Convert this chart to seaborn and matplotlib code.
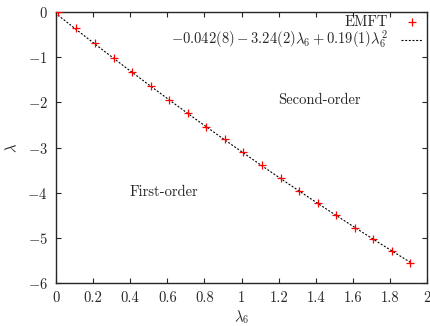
import numpy as np
import pandas as pd
import matplotlib
matplotlib.use("Agg")
import matplotlib.pyplot as plt
import seaborn as sns

# EMFT estimates of lambda as a function of lambda_6
lam6 = [0.01, 0.11, 0.21, 0.31, 0.41, 0.51, 0.61, 0.71, 0.81, 0.91,
        1.01, 1.11, 1.21, 1.31, 1.41, 1.51, 1.61, 1.71, 1.81, 1.91]
lam = [-0.01, -0.37, -0.70, -1.03, -1.34, -1.65, -1.95, -2.24, -2.54, -2.82,
       -3.11, -3.39, -3.67, -3.95, -4.22, -4.49, -4.77, -5.03, -5.29, -5.56]

# quadratic fit coefficients: c0 + c1*x + c2*x^2
fit_coef = [-0.042, -3.24, 0.19]
fit_label = r"$-0.042(8) - 3.24(2)\lambda_6 + 0.19(1)\lambda_6^2$"

xticks = [0, 0.2, 0.4, 0.6, 0.8, 1, 1.2, 1.4, 1.6, 1.8, 2]
yticks = [0, -1, -2, -3, -4, -5, -6]

sns.set_style("ticks")
plt.rcParams.update({
    "font.family": "serif",
    "font.serif": ["cmr10"],
    "mathtext.fontset": "cm",
    "axes.formatter.use_mathtext": True,
    "font.size": 10.5,
    "axes.linewidth": 1.0,
    "xtick.direction": "in",
    "ytick.direction": "in",
    "xtick.top": True,
    "ytick.right": True,
    "xtick.major.size": 3.5,
    "ytick.major.size": 3.5,
    "xtick.major.width": 0.8,
    "ytick.major.width": 0.8,
    "xtick.major.pad": 6,
    "ytick.major.pad": 6,
})

df = pd.DataFrame({"x": lam6, "y": lam})
xs = np.linspace(lam6[0], lam6[-1], 200)
fit = pd.DataFrame({"x": xs, "y": fit_coef[0] + fit_coef[1] * xs + fit_coef[2] * xs ** 2})

fig = plt.figure(figsize=(4.31, 3.26), dpi=100)
ax = fig.add_axes([0.130, 0.131, 0.861, 0.833])

sns.scatterplot(data=df, x="x", y="y", ax=ax, marker="+", color="red",
                s=40, linewidth=0.9, label="EMFT", zorder=3)
sns.lineplot(data=fit, x="x", y="y", ax=ax, color="black", linewidth=0.8,
             dashes=False, label=fit_label, zorder=2)
ax.lines[-1].set_linestyle((0, (1.8, 1.5)))

ax.set_xlim(0, 2)
ax.set_ylim(-6, 0)
ax.set_xticks(xticks)
ax.set_yticks(yticks)
ax.set_xticklabels([f"{t:g}" for t in xticks])
ax.set_yticklabels([f"${t}$" if t >= 0 else f"$-{abs(t)}$" for t in yticks])
ax.set_xlabel(r"$\lambda_6$", labelpad=2)
ax.set_ylabel(r"$\lambda$", labelpad=6)

ax.text(1.42, -1.95, "Second-order", ha="center", va="center")
ax.text(0.58, -3.99, "First-order", ha="center", va="center")

leg = ax.legend(loc="upper right", bbox_to_anchor=(1.0, 1.002), frameon=False,
                markerfirst=False, handlelength=1.5, handletextpad=0.9,
                borderaxespad=0.1, borderpad=0.2, labelspacing=0.0)

fig.savefig("out.png", dpi=100)
